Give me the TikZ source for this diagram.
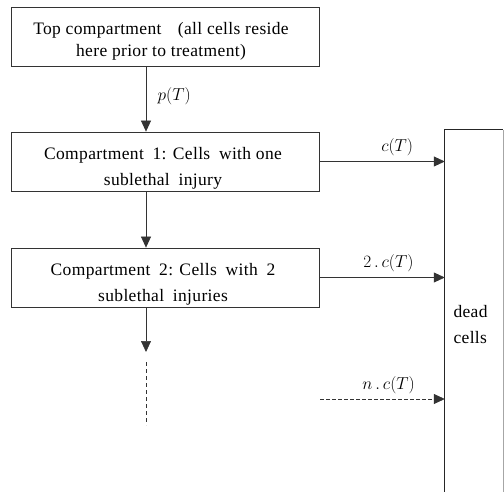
\documentclass[tikz,border=0pt]{standalone}
\usepackage{fontspec}
\setmainfont{Liberation Serif}[LetterSpace=2]
\usetikzlibrary{arrows.meta}
\begin{document}
\begin{tikzpicture}[x=1pt,y=-1pt,
  box/.style={draw=black!80,line width=0.8pt,inner sep=0pt},
  txt/.style={font=\fontsize{17.5}{22}\selectfont,align=center},
  txtb/.style={font=\fontsize{17.5}{26}\selectfont,align=center},
  arr/.style={draw=black!80,line width=0.7pt,-{Triangle[length=11pt,width=10pt]}},
  lbl/.style={font=\fontsize{17}{19}\selectfont}]
\useasboundingbox (0,0) rectangle (504,492);
% compartments
\node[box,minimum width=308pt,minimum height=59pt] (top) at (165,36.5) {};
\node[txt] at (161,41) {Top compartment\enspace\, (all cells reside\\ here prior to treatment)};
\node[box,minimum width=308pt,minimum height=59pt] (c1) at (165,161.5) {};
\node[txtb] at (163,168) {Compartment\enspace 1: Cells\enspace with one\\ sublethal\enspace injury};
\node[box,minimum width=308pt,minimum height=59pt] (c2) at (165,277.5) {};
\node[txtb] at (163,284) {Compartment\enspace 2: Cells\enspace with\enspace 2\\ sublethal\enspace injuries};
% dead cells
\node[inner sep=0pt,minimum width=58pt,minimum height=372pt] (dead) at (474,316) {};
\draw[black!85,line width=0.8pt] (dead.south west) -- (dead.north west) -- (dead.north east);
\draw[black!35,line width=0.8pt] (dead.north east) -- (dead.south east);
\node[txtb,align=left,anchor=west] (dtxt) at (450,325) {dead\\cells};
% vertical flow
\draw[arr] (top.south -| 146,0) -- (c1.north -| 146,0) node[midway,right=8pt,lbl,yshift=3pt] {$p(T)$};
\draw[arr] (c1.south -| 146,0) -- (c2.north -| 146,0);
\coordinate (v3) at (146,352);
\draw[arr] (c2.south -| 146,0) -- (v3);
\coordinate (d1) at (146,362);
\coordinate (d2) at (146,425);
\draw[black!80,line width=0.8pt,dash pattern=on 4pt off 3pt] (d1) -- (d2);
% death arrows
\draw[arr] (c1.east) -- (c1.east -| dead.west) node[pos=0.62,above=2pt,lbl] {$c(T)$};
\draw[arr] (c2.east) -- (c2.east -| dead.west) node[pos=0.55,above=2pt,lbl] {$2\,.\,c(T)$};
\coordinate (n0) at (320,399);
\draw[arr,dash pattern=on 4pt off 2pt] (n0) -- (n0 -| dead.west) node[pos=0.55,above=2pt,lbl] {$n\,.\,c(T)$};
\end{tikzpicture}
\end{document}
